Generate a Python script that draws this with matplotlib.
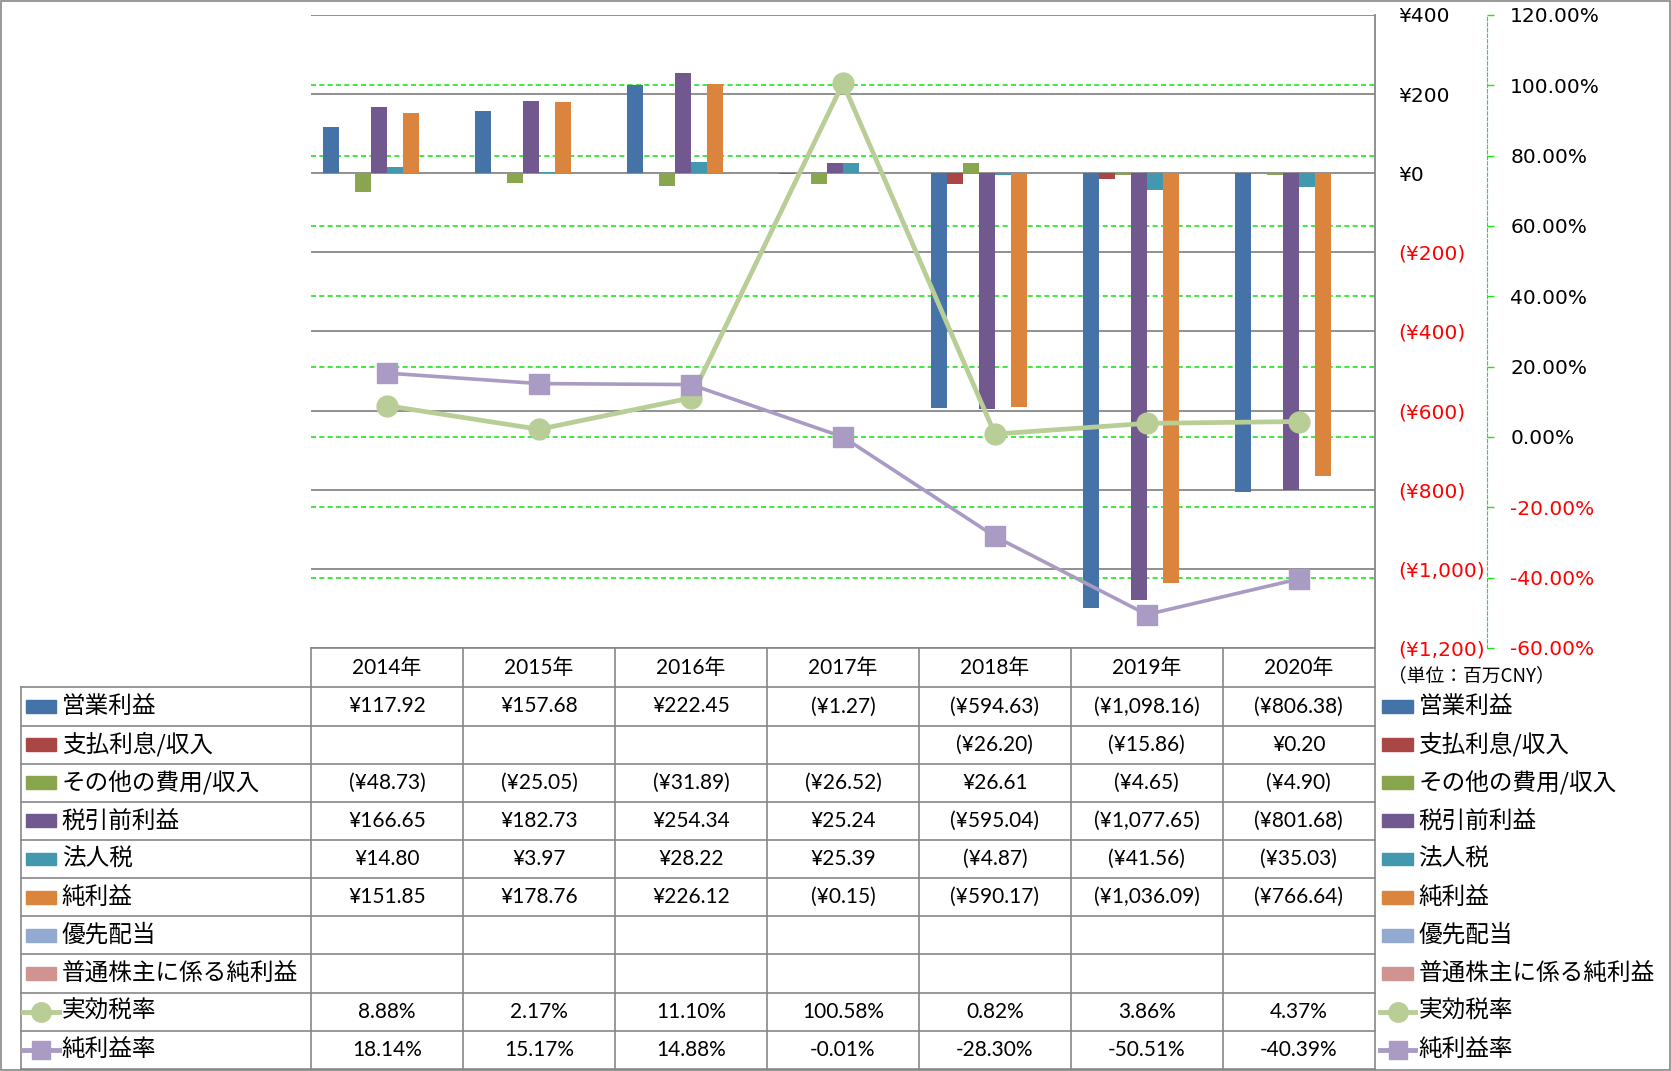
import matplotlib
matplotlib.use("Agg")
import matplotlib.pyplot as plt
from matplotlib.patches import Rectangle
import matplotlib.transforms as mtransforms

# --- data ---
years = ["2014年", "2015年", "2016年", "2017年", "2018年", "2019年", "2020年"]

eigyo = [117.92, 157.68, 222.45, -1.27, -594.63, -1098.16, -806.38]
shiharai = [None, None, None, None, -26.20, -15.86, 0.20]
sonota = [-48.73, -25.05, -31.89, -26.52, 26.61, -4.65, -4.90]
zeibiki = [166.65, 182.73, 254.34, 25.24, -595.04, -1077.65, -801.68]
hojinzei = [14.80, 3.97, 28.22, 25.39, -4.87, -41.56, -35.03]
junrieki = [151.85, 178.76, 226.12, -0.15, -590.17, -1036.09, -766.64]
yusen = [None] * 7
futsu = [None] * 7

jikko = [8.88, 2.17, 11.10, 100.58, 0.82, 3.86, 4.37]
junriekiritsu = [18.14, 15.17, 14.88, -0.01, -28.30, -50.51, -40.39]

bar_names = ["営業利益", "支払利息/収入", "その他の費用/収入", "税引前利益",
             "法人税", "純利益", "優先配当", "普通株主に係る純利益"]
bar_data = [eigyo, shiharai, sonota, zeibiki, hojinzei, junrieki, yusen, futsu]
bar_colors = ["#4572A7", "#AA4643", "#89A54E", "#71588F",
              "#4198AF", "#DB843D", "#93A9CF", "#D19392"]
line_names = ["実効税率", "純利益率"]
line_data = [jikko, junriekiritsu]
line_colors = ["#B9CD96", "#A99BC4"]
line_markers = ["o", "s"]

W, H = 1568, 1005  # layout grid (reference pixels)
GRAY = "#878787"
GREEN = "#1EE61E"
NUMFONT = ["Lato", "Noto Sans CJK JP", "DejaVu Sans"]
JPFONT = ["Noto Sans CJK JP", "DejaVu Sans"]


def fmt_yen(v):
    if v is None:
        return ""
    s = "¥{:,.2f}".format(abs(v))
    return "(" + s + ")" if v < 0 else s


def fmt_pct(v):
    return "" if v is None else "{:.2f}%".format(v)


fig = plt.figure(figsize=(16.71, 10.71), dpi=100)

px0, px1, py0, py1 = 292, 1290, 14, 608
ax = fig.add_axes([px0 / W, 1 - py1 / H, (px1 - px0) / W, (py1 - py0) / H])
ax2 = ax.twinx()

ax.set_xlim(-0.5, 6.5)
ax.set_ylim(-1200, 400)
ax.set_yticks(range(-1200, 401, 200))
ax.set_xticks([])
ax.yaxis.set_major_formatter(plt.FuncFormatter(
    lambda v, p: "¥{:,.0f}".format(v) if v >= 0 else "(¥{:,.0f})".format(-v)))
for s in ["top", "left", "bottom"]:
    ax.spines[s].set_visible(False)
ax.spines["right"].set_color(GRAY)
ax.spines["right"].set_linewidth(1.3)
ax.grid(axis="y", color=GRAY, lw=1.3)
ax.set_axisbelow(True)

bw = 15 / ((px1 - px0) / 7)
xs = list(range(len(years)))
for k, (vals, col) in enumerate(zip(bar_data, bar_colors)):
    pos = [x + (k - 3.5) * bw for x, v in zip(xs, vals) if v is not None]
    hv = [v for v in vals if v is not None]
    if hv:
        ax.bar(pos, hv, width=bw, color=col, zorder=2)

ax2.set_ylim(-60, 120)
ax2.set_yticks(range(-60, 121, 20))
ax2.yaxis.set_major_formatter(plt.FuncFormatter(lambda v, p: "{:.2f}%".format(v)))
for s in ["top", "left", "bottom"]:
    ax2.spines[s].set_visible(False)
ax2.spines["right"].set_position(("axes", 1 + 105 / (px1 - px0)))
ax2.spines["right"].set_color(GREEN)
ax2.spines["right"].set_linestyle((0, (3, 2)))
ax2.tick_params(axis="y", colors=GREEN, length=5, width=1, pad=12, labelsize=14.5)

# primary value axis sits on the right, labels only
ax.yaxis.tick_right()
ax.tick_params(axis="y", length=0, pad=17, labelsize=14.5)

fig.canvas.draw()
for a in (ax, ax2):
    for lab, v in zip(a.get_yticklabels(), a.get_yticks()):
        lab.set_color("red" if v < 0 else "black")

# secondary gridlines, drawn behind the bars
tr = mtransforms.blended_transform_factory(ax.transAxes, ax2.transData)
for t in range(-40, 120, 20):
    ax.plot([0, 1], [t, t], transform=tr, color=GREEN, lw=1.2,
            ls=(0, (3, 2)), zorder=1)

for vals, col, mk, lw, ms in zip(line_data, line_colors, line_markers, [3.4, 2.6], [15, 14]):
    ax2.plot(xs, vals, color=col, lw=lw, marker=mk, ms=ms, mfc=col, mec=col, zorder=3)

# --- data table and legends ---
ov = fig.add_axes([0, 0, 1, 1])
ov.set_xlim(0, W)
ov.set_ylim(H, 0)
ov.axis("off")
ov.patch.set_alpha(0)

cw = (px1 - px0) / 7
row0, rh = 645, 35.8
nrows = 10
ybot = row0 + rh * nrows

ov.plot([px0, px1], [py1, py1], color=GRAY, lw=1.2)
for r in range(nrows + 1):
    ov.plot([20, px1], [row0 + r * rh] * 2, color=GRAY, lw=1.2)
ov.plot([20, 20], [row0, ybot], color=GRAY, lw=1.2)
for c in range(8):
    ov.plot([px0 + c * cw] * 2, [py1, ybot], color=GRAY, lw=1.2)

for c, yr in enumerate(years):
    ov.text(px0 + (c + 0.5) * cw, 627, yr, ha="center", va="center",
            fontsize=15, family=NUMFONT)

rows = [(n, [fmt_yen(v) for v in vals]) for n, vals in zip(bar_names, bar_data)]
rows += [(n, [fmt_pct(v) for v in vals]) for n, vals in zip(line_names, line_data)]
for r, (name, cells) in enumerate(rows):
    yc = row0 + (r + 0.5) * rh
    for c, txt in enumerate(cells):
        ov.text(px0 + (c + 0.5) * cw, yc, txt, ha="center", va="center",
                fontsize=15, family=NUMFONT)
    for kx in (24, 1297):
        if r < len(bar_names):
            ov.add_patch(Rectangle((kx, yc - 6), 29, 12, color=bar_colors[r]))
        else:
            j = r - len(bar_names)
            ov.plot([kx - 2, kx + 31], [yc, yc], color=line_colors[j], lw=3.5)
            ov.plot([kx + 14.5], [yc], marker=line_markers[j], ms=14 if j == 0 else 13,
                    color=line_colors[j])
        ov.text(kx + 34, yc, name, ha="left", va="center", fontsize=17, family=JPFONT)

ov.text(1302, 634, "（単位：百万CNY）", ha="left", va="center", fontsize=13.5, family=JPFONT)

ov.add_patch(Rectangle((0.5, 0.5), W - 1.5, H - 1.5, fill=False, ec=GRAY, lw=1.2))

fig.savefig("out.png", dpi=100)
